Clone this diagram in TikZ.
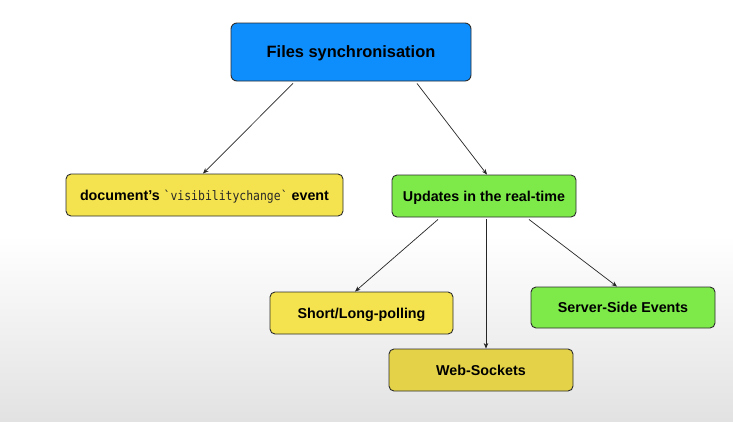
\documentclass[tikz,border=0pt]{standalone}
\usepackage{fontspec}
\setmainfont{Liberation Sans}
\newfontfamily\codefont[FakeStretch=0.88]{DejaVu Sans Mono}
\usetikzlibrary{arrows.meta,calc}
\definecolor{boxblue}{RGB}{14,142,252}
\definecolor{boxyellow}{RGB}{244,227,78}
\definecolor{boxyellowdark}{RGB}{228,210,72}
\definecolor{boxgreen}{RGB}{126,234,74}
\definecolor{edgegray}{RGB}{45,45,45}
\definecolor{monogray}{RGB}{40,40,40}
\definecolor{bggray}{RGB}{226,226,226}
\tikzset{
  card/.style={draw=edgegray, line width=0.9pt, rounded corners=5pt, inner sep=0pt,
    font=\bfseries\fontsize{14.3}{17}\selectfont, text=black,
    text height=10.3pt, text depth=0pt},
  link/.style={draw=black!85, line width=0.7pt, -{Stealth[length=5.5pt,width=4.5pt]}}
}
\begin{document}
\begin{tikzpicture}[x=1pt,y=-1pt]
\useasboundingbox (0,0) rectangle (733,421);
\fill[white] (0,0) rectangle (733,421);
\shade[top color=white, bottom color=bggray] (0,235) rectangle (733,421);

\node[card, fill=boxblue, minimum width=240pt, minimum height=58pt,
  rounded corners=6pt, font=\bfseries\fontsize{16.4}{20}\selectfont, text height=11.8pt] (top) at (351,52) {Files synchronisation};
\node[card, fill=boxyellow, minimum width=277pt, minimum height=42pt] (vis) at (204.5,195)
  {document’s {\mdseries\codefont\fontsize{13}{15}\selectfont\color{monogray}`visibilitychange`} event};
\node[card, fill=boxgreen, minimum width=184pt, minimum height=42pt] (upd) at (484,196) {Updates in the real-time};
\node[card, fill=boxyellow, minimum width=183pt, minimum height=42pt] (short) at (361.5,313) {Short/Long-polling\hspace{16pt}};
\node[card, fill=boxyellowdark, minimum width=184pt, minimum height=42pt] (web) at (481,370) {Web-Sockets};
\node[card, fill=boxgreen, minimum width=184pt, minimum height=41pt] (sse) at (623,307.5) {Server-Side Events};

\draw[link] ([xshift=-58pt,yshift=-2pt]top.south) -- ([xshift=-1.5pt]vis.north);
\draw[link] ([xshift=66pt,yshift=-2pt]top.south) -- ([xshift=3pt]upd.north);
\draw[link] ([xshift=-46pt,yshift=-2pt]upd.south) -- ([xshift=-6.5pt]short.north);
\draw[link] ([xshift=2pt,yshift=-2pt]upd.south) -- ([xshift=5pt]web.north);
\draw[link] ([xshift=45pt,yshift=-2pt]upd.south) -- ([xshift=-6pt]sse.north);
\end{tikzpicture}
\end{document}
